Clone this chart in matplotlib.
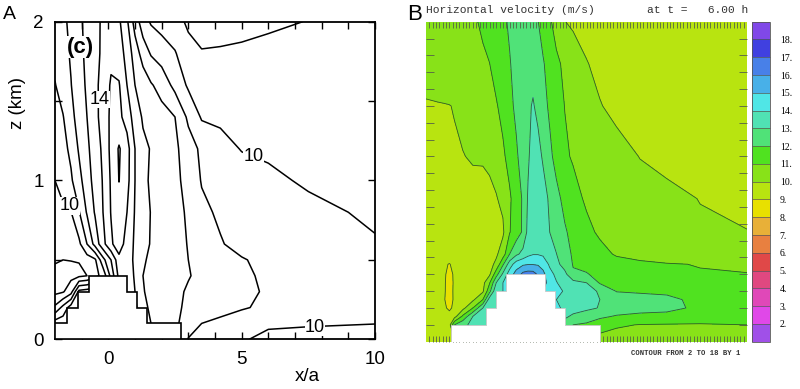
"""
Two panels: (A) contour lines of horizontal wind over a stepped ridge,
(B) the same field from a model run, as filled contours with a colour bar.
"""

import numpy as np
import matplotlib
matplotlib.use("Agg")
import matplotlib.pyplot as plt


# ==========================
# DATA - panel A (x/a, km)
# ==========================

xa = [-2.0, -1.7, -1.4, -1.1, -0.8, -0.5, -0.2, 0.1, 0.4, 0.7, 1.0,
      1.3, 1.6, 2.0, 2.5, 3.0, 3.5, 4.2, 5.0, 6.0, 7.5, 10.0]
za = [0.0, 0.1, 0.2, 0.3, 0.4, 0.5, 0.6, 0.8, 1.0, 1.2, 1.4, 1.6, 1.8, 2.0]

# u (m/s), one row per height in za
speed_a = [
    [12.5, 12.5, 12.5, 12.5, 12.5, 13.0, 13.5, 14.0, 14.5, 14.5, 14.0, 13.5, 13.0, 12.7, 12.2, 10.95, 10.6, 10.35, 10.1, 9.75, 9.7, 9.75],
    [12.5, 12.6, 12.6, 12.6, 12.6, 13.0, 13.5, 14.0, 14.5, 14.5, 14.0, 13.5, 13.0, 12.7, 12.2, 11.5, 11.0, 10.8, 10.6, 10.15, 10.08, 10.01],
    [10.2, 11.3, 12.5, 12.6, 12.6, 13.0, 13.5, 14.0, 14.5, 14.8, 14.2, 13.3, 12.8, 12.5, 12.15, 11.85, 11.55, 11.3, 11.07, 10.85, 10.45, 10.3],
    [8.75, 8.9, 9.6, 12.3, 12.5, 12.8, 13.2, 14.0, 14.8, 15.0, 14.0, 13.1, 12.6, 12.45, 12.2, 11.9, 11.7, 11.45, 11.2, 10.9, 10.45, 10.25],
    [8.85, 8.8, 8.75, 8.8, 9.0, 9.7, 10.3, 12.3, 14.3, 15.0, 13.8, 13.0, 12.8, 12.6, 12.35, 12.05, 11.8, 11.5, 11.2, 10.8, 10.45, 10.2],
    [9.05, 9.0, 9.02, 9.05, 9.5, 9.83, 11.67, 13.0, 14.67, 14.75, 13.7, 13.1, 12.85, 12.6, 12.3, 12.0, 11.75, 11.4, 11.07, 10.75, 10.4, 10.15],
    [9.25, 9.35, 9.5, 9.78, 11.0, 12.35, 13.68, 14.82, 15.6, 14.52, 13.86, 13.34, 12.93, 12.65, 12.3, 11.96, 11.6, 11.07, 10.7, 10.45, 10.25, 10.05],
    [9.62, 9.8, 9.97, 10.93, 12.1, 13.09, 14.0, 15.05, 15.6, 15.0, 13.92, 13.42, 12.96, 12.69, 12.3, 11.87, 11.21, 10.85, 10.55, 10.35, 10.15, 9.9],
    [10.0, 10.43, 10.86, 11.67, 12.57, 13.35, 14.07, 15.12, 16.02, 15.35, 14.0, 13.25, 12.86, 12.59, 12.24, 11.67, 10.94, 10.73, 10.48, 10.12, 9.92, 9.9],
    [10.32, 10.7, 11.22, 12.12, 12.81, 13.47, 14.2, 15.25, 16.1, 15.41, 14.0, 13.2, 12.95, 12.53, 12.2, 11.46, 10.8, 10.37, 9.95, 9.9, 9.88, 9.85],
    [10.63, 10.95, 11.71, 12.4, 13.0, 13.67, 14.45, 15.18, 15.23, 14.6, 13.5, 12.89, 12.67, 12.37, 12.0, 10.8, 9.9, 9.8, 9.75, 9.72, 9.75, 9.8],
    [10.95, 11.46, 11.97, 12.56, 13.15, 13.69, 14.46, 15.1, 15.08, 14.0, 13.0, 12.6, 12.1, 11.62, 10.71, 9.85, 9.65, 9.55, 9.5, 9.5, 9.55, 9.6],
    [11.3, 11.68, 12.1, 12.7, 13.23, 13.69, 14.2, 14.8, 14.51, 13.63, 12.54, 11.57, 10.91, 10.55, 10.09, 9.2, 9.02, 9.05, 9.1, 9.2, 9.3, 9.4],
    [11.5, 11.81, 12.21, 12.79, 13.28, 13.72, 14.16, 14.6, 14.16, 13.17, 11.58, 10.44, 9.89, 9.59, 9.22, 8.9, 8.88, 8.82, 8.82, 8.88, 9.02, 9.3],
]

levels_a = [9, 10, 11, 12, 13, 14, 15, 16]
# contour labels: text and where they sit on their line
label_text_a = ["10", "14", "10", "10"]
label_x_a = [-1.44, -0.33, 5.44, 7.75]
label_z_a = [0.84, 1.51, 1.15, 0.075]

# stepped ridge outline
terrain_a_x = [-2.0, -2.0, -1.56, -1.56, -1.13, -1.13, -0.72, -0.72, 0.69, 0.69,
               1.06, 1.06, 1.44, 1.44, 2.72, 2.72]
terrain_a_z = [0.0, 0.1, 0.1, 0.2, 0.2, 0.3, 0.3, 0.4, 0.4, 0.3,
               0.3, 0.2, 0.2, 0.1, 0.1, 0.0]


# ==========================
# DATA - panel B (grid units)
# ==========================

xb = [0, 3.5, 5.5, 7, 8.5, 11, 14, 17, 19, 21, 23, 25, 27, 29, 30.5, 32,
      33.5, 35, 37, 39, 41.5, 44, 48, 52, 57, 64, 72, 82, 96]
zb = [0, 1, 1.5, 2, 2.5, 3, 3.5, 4, 4.6, 5.2, 6.5, 8.5, 11, 14, 16.5, 19]

speed_b = [
    [9.5, 9.5, 9.5, 9.55, 9.6, 9.6, 13.2, 13.4, 13.6, 14, 14, 14.5, 15, 15.5, 15.5, 15.5, 15.2, 15, 14.8, 14.2, 12.5, 12.0, 11.85, 10.6, 10.6, 10.55, 10.5, 10.5, 10.5],
    [9.5, 9.5, 9.5, 9.6, 12.0, 12.8, 13.2, 13.4, 13.6, 14, 14, 14.5, 15, 15.5, 15.5, 15.5, 15.2, 15, 14.8, 14.2, 12.5, 12.0, 11.85, 11.4, 11.1, 10.97, 10.95, 10.93, 11.0],
    [9.3, 9.35, 9.4, 9.4, 9.6, 11.2, 13.0, 13.5, 13.6, 14, 14, 14.5, 15, 15.5, 15.5, 15.5, 15.2, 15, 14.8, 14.2, 13.2, 12.8, 12.5, 12.2, 11.9, 11.7, 11.55, 11.45, 11.4],
    [9.2, 9.25, 9.15, 8.8, 9.25, 9.7, 11.0, 13.0, 13.6, 14, 14, 14.5, 15, 15.5, 15.5, 15.5, 15.2, 15, 14.8, 14.2, 13.8, 13.45, 13.2, 12.95, 12.6, 12.45, 12.4, 11.7, 11.5],
    [9.15, 9.2, 9.05, 8.5, 9.2, 9.5, 9.8, 11.0, 13.5, 14, 14, 14.5, 15, 15.5, 15.5, 15.5, 15.2, 15, 14.8, 14.0, 13.8, 13.5, 13.3, 13.0, 12.6, 12.45, 12.3, 11.65, 11.5],
    [9.1, 9.15, 9.1, 8.55, 9.2, 9.35, 9.55, 9.85, 11.7, 13.8, 14, 14.5, 15, 15.5, 15.5, 15.5, 15.2, 15, 14.8, 14.3, 13.9, 13.65, 13.3, 12.9, 11.95, 11.85, 11.75, 11.6, 11.5],
    [9.05, 9.1, 9.1, 8.6, 9.15, 9.3, 9.45, 9.7, 10.9, 13.0, 14.0, 14.5, 15.2, 15.8, 16.0, 16.0, 15.5, 15.2, 14.8, 14.05, 13.6, 13.35, 13.0, 11.9, 11.6, 11.45, 11.35, 11.3, 11.25],
    [9.05, 9.08, 9.1, 8.75, 9.12, 9.3, 9.42, 9.6, 9.85, 11.6, 13.2, 14.5, 15.4, 16.3, 16.5, 16.45, 15.85, 15.3, 14.3, 13.8, 13.3, 12.1, 12.05, 11.8, 11.45, 11.25, 11.1, 11.05, 11.02],
    [9.1, 9.1, 9.05, 8.98, 9.1, 9.25, 9.4, 9.55, 9.7, 10.2, 11.85, 13.5, 14.5, 14.85, 14.95, 14.95, 14.9, 14.6, 13.85, 13.3, 12.55, 11.95, 11.8, 11.55, 11.35, 11.2, 11.05, 10.97, 10.9],
    [9.15, 9.18, 9.22, 9.26, 9.32, 9.4, 9.5, 9.62, 9.72, 9.85, 10.5, 12.0, 12.8, 13.3, 13.75, 13.95, 13.95, 13.85, 13.55, 13.02, 12.3, 11.9, 11.6, 11.3, 10.9, 10.65, 10.55, 10.5, 10.45],
    [9.2, 9.28, 9.33, 9.37, 9.41, 9.45, 9.55, 9.65, 9.72, 9.8, 9.85, 10.95, 11.5, 12.15, 13.3, 13.75, 13.9, 13.6, 13.0, 12.6, 12.1, 11.75, 11.25, 10.85, 10.6, 10.4, 10.25, 10.1, 10.02],
    [9.3, 9.38, 9.43, 9.48, 9.52, 9.6, 9.7, 9.8, 9.88, 9.95, 10.2, 10.87, 11.45, 12.13, 13.1, 13.6, 13.8, 13.5, 12.8, 12.25, 11.75, 11.35, 10.85, 10.65, 10.45, 10.3, 10.18, 9.98, 9.8],
    [9.6, 9.7, 9.78, 9.83, 9.9, 9.97, 10.08, 10.06, 10.1, 10.35, 10.85, 11.3, 11.85, 12.45, 12.85, 13.45, 13.4, 12.85, 12.2, 11.7, 11.15, 10.9, 10.7, 10.5, 10.28, 9.98, 9.8, 9.65, 9.6],
    [9.9, 9.94, 9.96, 9.98, 10.04, 10.22, 10.45, 10.65, 10.8, 10.93, 11.25, 11.75, 12.2, 12.5, 12.8, 13.1, 12.7, 12.3, 11.85, 11.45, 10.98, 10.75, 10.4, 10.04, 9.8, 9.65, 9.55, 9.5, 9.5],
    [10.5, 10.59, 10.64, 10.67, 10.71, 10.78, 10.86, 10.95, 10.99, 11.3, 11.63, 11.95, 12.25, 12.5, 12.65, 12.6, 12.35, 12.08, 11.65, 11.2, 10.8, 10.5, 10.04, 9.8, 9.65, 9.55, 9.5, 9.5, 9.5],
    [10.6, 10.69, 10.74, 10.77, 10.81, 10.87, 10.95, 11.05, 11.35, 11.6, 11.85, 12.1, 12.35, 12.55, 12.6, 12.4, 12.02, 11.65, 11.15, 10.6, 10.02, 9.85, 9.7, 9.6, 9.55, 9.5, 9.5, 9.5, 9.5],
]

levels_b = list(range(1, 20))
band_colors_b = ["#a050e8", "#e048e8", "#e048b8", "#e04880", "#e04848", "#e88040",
                 "#e8b038", "#e8e000", "#b8e410", "#88e218", "#50e220", "#50e278",
                 "#50e2b4", "#50e6e6", "#48b0e8", "#4880e8", "#4040e0", "#8048e8"]
cbar_ticks_b = list(range(2, 19))
cbar_labels_b = [f"{v}." for v in cbar_ticks_b]

terrain_b_x = [7.5, 7.5, 18, 18, 21, 21, 24, 24, 35.5, 35.5, 38.5, 38.5, 41.5, 41.5, 52, 52]
terrain_b_z = [0, 1, 1, 2, 2, 3, 3, 4, 4, 3, 3, 2, 2, 1, 1, 0]


# ==========================
# PANELS
# ==========================

SANS = "Liberation Sans"
MONO = "Liberation Mono"


def draw_panel_a(fig):
    ax = fig.add_axes([0.06875, 0.1278, 0.4, 0.8164])
    ax.contour(xa, za, np.array(speed_a), levels=levels_a,
               colors="black", linewidths=1.1, zorder=2)

    ax.fill(terrain_a_x, terrain_a_z, facecolor="white", edgecolor="black",
            linewidth=1.2, zorder=3)

    # labels sit on their line with a white patch behind (like inline labels)
    for txt, x, z in zip(label_text_a, label_x_a, label_z_a):
        ax.text(x, z, txt, fontsize=13, family=SANS, ha="center", va="center",
                zorder=4, bbox=dict(facecolor="white", edgecolor="none", pad=0.3))

    ax.text(-1.05, 1.84, "(c)", fontsize=16, fontweight="bold", family=SANS,
            ha="center", va="center", zorder=4,
            bbox=dict(facecolor="white", edgecolor="none", pad=0.5))

    ax.set_xlim(-2, 10)
    ax.set_ylim(0, 2)
    ax.set_xticks([0, 5, 10])
    ax.set_xticks([-1, 1, 2, 3, 4, 6, 7, 8, 9], minor=True)
    ax.set_yticks([0, 1, 2])
    ax.set_yticks([0.5, 1.5], minor=True)
    ax.tick_params(which="both", direction="in", length=5, width=1.0,
                   top=True, right=True, labelsize=13.5)
    ax.tick_params(axis="x", pad=8.5)
    ax.tick_params(axis="y", pad=8)
    for lab in ax.get_xticklabels() + ax.get_yticklabels():
        lab.set_family(SANS)
    for sp in ax.spines.values():
        sp.set_linewidth(1.3)

    ax.text(0.79, -0.116, "x/a", transform=ax.transAxes, fontsize=13.5,
            family=SANS, ha="center", va="center")
    ax.text(-0.118, 0.744, "z (km)", transform=ax.transAxes, fontsize=13.5,
            family=SANS, ha="center", va="center", rotation=90)

    fig.text(0.004, 0.964, "A", fontsize=14, family=SANS, ha="left", va="center")


def draw_panel_b(fig):
    ax = fig.add_axes([0.5325, 0.1216, 0.40125, 0.8226])
    field = np.array(speed_b)
    cf = ax.contourf(xb, zb, field, levels=levels_b, colors=band_colors_b, zorder=1)
    ax.contour(xb, zb, field, levels=levels_b[1:-1], colors="#2a4226",
               linewidths=0.6, alpha=0.85, zorder=2)

    ax.fill(terrain_b_x, terrain_b_z, facecolor="white", edgecolor="#c8c8c8",
            linewidth=0.6, zorder=2.2)

    ax.set_xlim(0, 96)
    ax.set_ylim(0, 19)
    ax.set_xticks(np.arange(1, 96))
    ax.set_yticks(np.arange(1, 19))
    ax.tick_params(axis="x", direction="in", length=4, width=0.6, color="#55604a",
                   top=True, bottom=True, labelbottom=False)
    ax.tick_params(axis="y", direction="in", length=5.5, width=0.6, color="#55604a",
                   left=True, right=True, labelleft=False)
    for sp in ax.spines.values():
        sp.set_visible(False)

    cax = fig.add_axes([0.9396, 0.1216, 0.0229, 0.8226])
    cb = fig.colorbar(cf, cax=cax, ticks=cbar_ticks_b, drawedges=True)
    cb.ax.set_yticklabels(cbar_labels_b)
    cb.ax.tick_params(length=0, pad=7, labelsize=7)
    for lab in cb.ax.get_yticklabels():
        lab.set_family("Liberation Serif")
    cb.outline.set_edgecolor("#555555")
    cb.outline.set_linewidth(0.6)
    cb.dividers.set_color("#555555")
    cb.dividers.set_linewidth(0.5)

    fig.text(0.5325, 0.974, "Horizontal velocity (m/s)", family=MONO,
             fontsize=8.1, ha="left", va="center", color="#333333")
    fig.text(0.809, 0.974, "at t =   6.00 h", family=MONO,
             fontsize=8.1, ha="left", va="center", color="#333333")
    fig.text(0.925, 0.0925, "CONTOUR FROM 2 TO 18 BY 1", family=MONO,
             fontsize=5.2, fontweight="bold", ha="right", va="center",
             color="#333333")

    fig.text(0.509, 0.962, "B", fontsize=16, family=SANS, ha="left", va="center")


def main():
    fig = plt.figure(figsize=(8, 3.89), dpi=100)
    fig.patch.set_facecolor("white")
    draw_panel_a(fig)
    draw_panel_b(fig)
    fig.savefig("out.png", dpi=100)
    plt.close(fig)


if __name__ == "__main__":
    main()
